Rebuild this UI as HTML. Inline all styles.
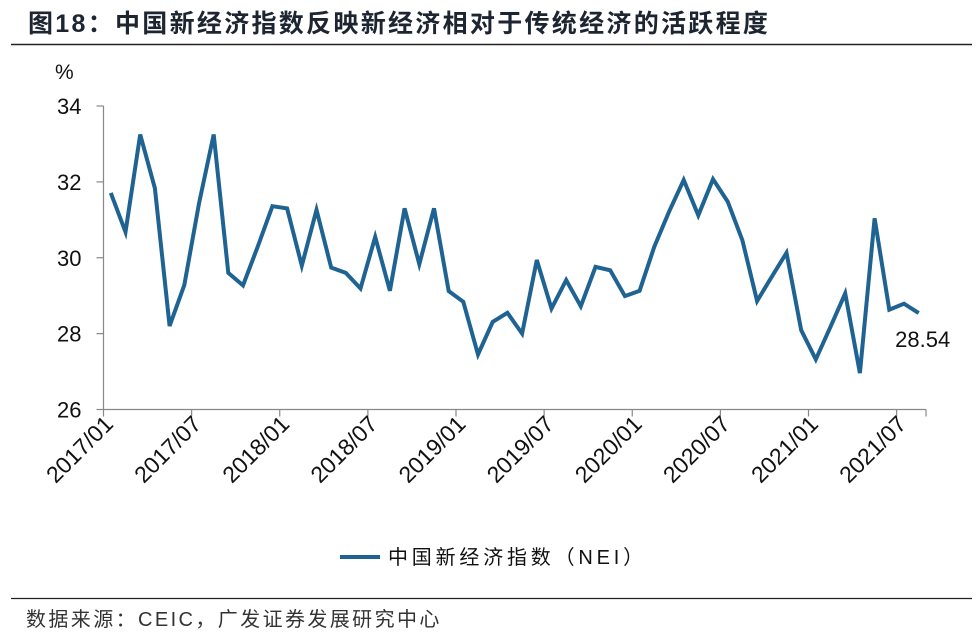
<!DOCTYPE html>
<html><head><meta charset="utf-8"><style>
body{margin:0;background:#fff;}
svg text{font-family:"Liberation Sans","Noto Sans CJK SC",sans-serif;}
</style></head><body>
<svg width="979" height="636" viewBox="0 0 979 636">
<text x="28" y="32" font-size="25" font-weight="bold" letter-spacing="2.3" fill="#1c2530">图18：中国新经济指数反映新经济相对于传统经济的活跃程度</text>
<line x1="11" y1="44.5" x2="972" y2="44.5" stroke="#222" stroke-width="1.5"/>
<text x="55" y="79" font-size="21" fill="#111">%</text>
<g id="axes"></g>
<g id="series"></g>
<line x1="340" y1="557" x2="380" y2="557" stroke="#1f6392" stroke-width="4"/>
<text x="388" y="564" font-size="20" letter-spacing="3.8" fill="#111">中国新经济指数（NEI）</text>
<line x1="11" y1="598.5" x2="972" y2="598.5" stroke="#222" stroke-width="1.2"/>
<text x="26" y="626" font-size="20" letter-spacing="2.4" fill="#333">数据来源：CEIC，广发证券发展研究中心</text>
</svg>
<script>
const values=[31.71,30.68,33.25,31.83,28.20,29.28,31.43,33.25,29.60,29.27,30.29,31.36,31.30,29.79,31.26,29.74,29.60,29.19,30.55,29.13,31.30,29.83,31.30,29.12,28.84,27.45,28.31,28.55,28.00,29.94,28.66,29.41,28.72,29.76,29.67,28.99,29.13,30.29,31.21,32.05,31.12,32.07,31.48,30.46,28.86,29.50,30.13,28.09,27.32,28.18,29.06,26.96,31.04,28.63,28.79,28.54];
const yTicks=[26,28,30,32,34];
const xLabels=["2017/01","2017/07","2018/01","2018/07","2019/01","2019/07","2020/01","2020/07","2021/01","2021/07"];
const lastLabel="28.54";
const NS="http://www.w3.org/2000/svg";
const X0=103.5,X1=926,Y0=409.5,Y1=106,vmin=26,vmax=34;
const step=(X1-X0)/values.length;
function xc(i){return X0+step*(i+0.5);}
function xb(i){return X0+step*i;}
function y(v){return Y0-(v-vmin)/(vmax-vmin)*(Y0-Y1);}
function mk(t,a,p){const e=document.createElementNS(NS,t);for(const k in a)e.setAttribute(k,a[k]);p.appendChild(e);return e;}
const ax=document.getElementById('axes'),se=document.getElementById('series');
let l=mk('line',{x1:X0,y1:Y1,x2:X0,y2:Y0,stroke:'#888','stroke-width':1.2},ax);


l=mk('line',{x1:X0,y1:Y0,x2:X1,y2:Y0,stroke:'#888','stroke-width':1.2},ax);


yTicks.forEach(v=>{
 const t=mk('line',{x1:X0-7,y1:y(v),x2:X0,y2:y(v),stroke:'#888','stroke-width':1.2},ax);
 
 
 const tx=mk('text',{x:X0-22,y:y(v)+8,'font-size':22,'text-anchor':'end',fill:'#111'},ax);
 tx.textContent=v;
 
 
});
xLabels.forEach((s,k)=>{
 const i=k*6,x=xb(i);
 const t=mk('line',{x1:x,y1:Y0,x2:x,y2:Y0+7,stroke:'#888','stroke-width':1.2},ax);
 
 
 const tx=mk('text',{x:0,y:0,'font-size':23,'text-anchor':'end',fill:'#111',transform:`translate(${x+11},${Y0+16}) rotate(-45)`},ax);
 tx.textContent=s;
 
 
});
const t=mk('line',{x1:X1,y1:Y0,x2:X1,y2:Y0+7,stroke:'#888','stroke-width':1.2},ax);


const pl=mk('polyline',{points:values.map((v,i)=>xc(i).toFixed(1)+','+y(v).toFixed(1)).join(' '),fill:'none',stroke:'#1f6392','stroke-width':4,'stroke-linejoin':'miter'},se);


const n=values.length-1;
const lb=mk('text',{x:xc(n)+4,y:y(values[n])+34,'font-size':22,'text-anchor':'middle',fill:'#111'},se);
lb.textContent=lastLabel;


</script>
</body></html>
